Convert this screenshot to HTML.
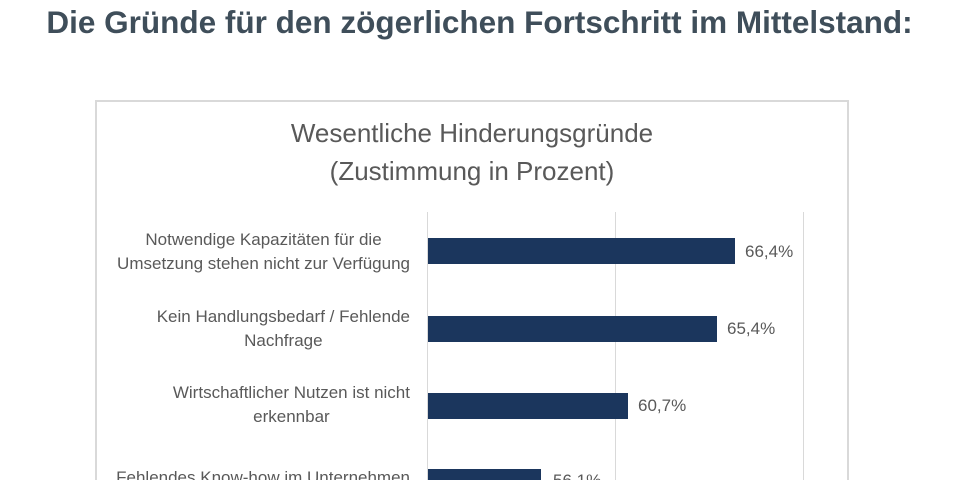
<!DOCTYPE html>
<html><head><meta charset="utf-8"><style>
html,body{margin:0;width:959px;height:480px;background:#fff;overflow:hidden;position:relative;font-family:"Liberation Sans",sans-serif}
.h{position:absolute;left:0;width:959px;top:4px;text-align:center;font-weight:bold;font-size:31.5px;color:#3f4e5a;white-space:nowrap}
.box{position:absolute;left:95px;top:100px;width:754px;height:380px;border:2px solid #d9d9d9;border-bottom:none;box-sizing:border-box}
.ct{position:absolute;left:95px;width:754px;text-align:center;font-size:26px;color:#595959;line-height:38px;top:114px;white-space:nowrap}
.g{position:absolute;top:212px;height:268px;width:1px;background:#d9d9d9}
.b{position:absolute;left:428px;height:26px;background:#1b365d}
.v{position:absolute;font-size:17px;color:#595959}
.l{position:absolute;right:549px;width:380px;text-align:right;font-size:17px;line-height:24px;color:#595959;white-space:nowrap}
.l span{display:inline-block;text-align:center}
</style></head><body>
<div class="h">Die Gründe für den zögerlichen Fortschritt im Mittelstand:</div>
<div class="box"></div>
<div class="ct">Wesentliche Hinderungsgründe<br>(Zustimmung in Prozent)</div>
<div class="g" style="left:427px"></div>
<div class="g" style="left:615px"></div>
<div class="g" style="left:803px"></div>
<div class="l" style="top:228px"><span>Notwendige Kapazitäten für die<br>Umsetzung stehen nicht zur Verfügung</span></div>
<div class="b" style="top:238px;width:307px"></div><div class="v" style="left:745px;top:242px">66,4%</div>
<div class="l" style="top:305px"><span>Kein Handlungsbedarf / Fehlende<br>Nachfrage</span></div>
<div class="b" style="top:316px;width:289px"></div><div class="v" style="left:727px;top:319px">65,4%</div>
<div class="l" style="top:381px"><span>Wirtschaftlicher Nutzen ist nicht<br>erkennbar</span></div>
<div class="b" style="top:393px;width:200px"></div><div class="v" style="left:638px;top:396px">60,7%</div>
<div class="l" style="top:466px;height:14px;overflow:hidden">Fehlendes Know-how im Unternehmen</div>
<div class="b" style="top:469px;width:113px;height:11px"></div><div class="v" style="left:553px;top:471px;height:9px;overflow:hidden">56,1%</div>
</body></html>
